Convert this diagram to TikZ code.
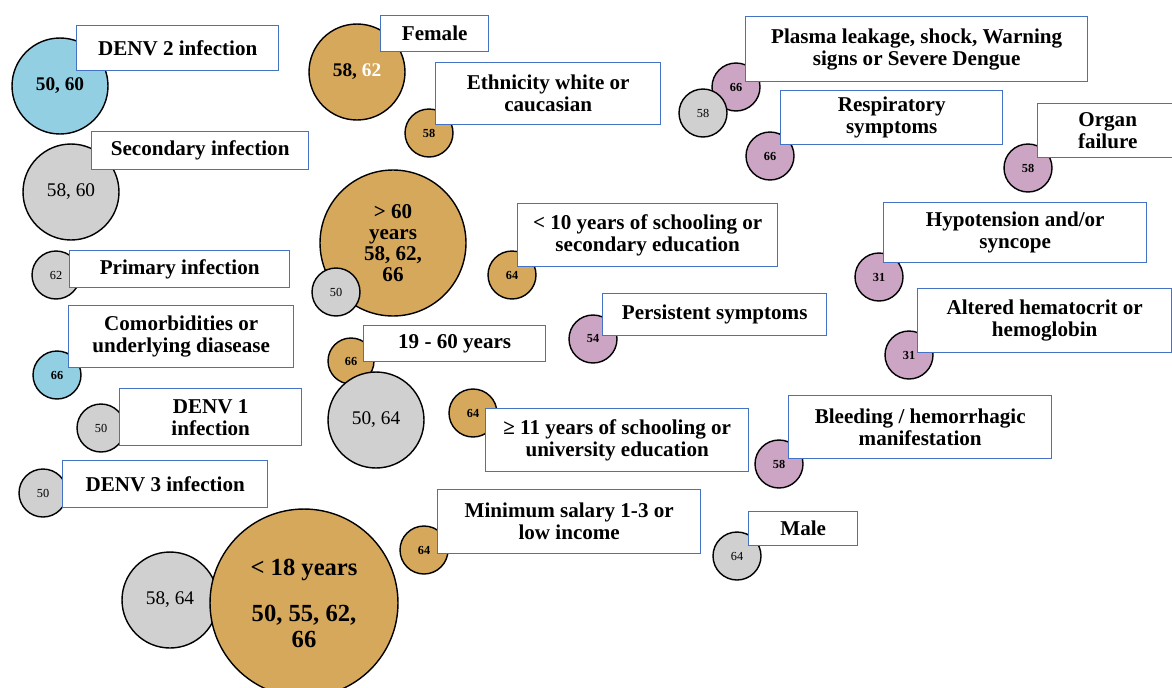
\documentclass[tikz,border=0pt]{standalone}
\usepackage{fontspec}
\setmainfont{Liberation Serif}
\definecolor{bubblue}{RGB}{146,207,227}
\definecolor{bubgold}{RGB}{214,168,92}
\definecolor{bubgray}{RGB}{208,208,208}
\definecolor{bubpink}{RGB}{205,165,196}
\definecolor{boxline}{RGB}{68,114,196}
\begin{document}
\begin{tikzpicture}[x=0.02cm,y=-0.02cm,
    bub/.style={circle, draw=black, line width=0.8pt, inner sep=0pt, align=center},
    small/.style={bub, minimum size=0.96cm, font=\bfseries\fontsize{7}{8}\selectfont},
    smallreg/.style={bub, minimum size=0.96cm, font=\fontsize{7}{8}\selectfont},
    mid/.style={bub, minimum size=1.92cm, font=\bfseries\fontsize{11}{12}\selectfont},
    midreg/.style={bub, minimum size=1.92cm, font=\fontsize{11}{12}\selectfont},
    box/.style={draw=boxline, fill=white, line width=0.8pt, anchor=north west, align=center,
        inner sep=0pt, font=\bfseries\fontsize{12}{12.5}\selectfont}]
    \useasboundingbox (0,0) rectangle (1172,687);
    % left column
    \node[mid, fill=bubblue] (c-denv2) at (60,86) {50, 60};
    \node[midreg, fill=bubgray] (c-second) at (71,192) {58, 60};
    \node[smallreg, fill=bubgray] (c-prim) at (56,275) {62};
    \node[small, fill=bubblue] (c-comor) at (57,375) {66};
    \node[smallreg, fill=bubgray] (c-denv1) at (101,428) {50};
    \node[smallreg, fill=bubgray] (c-denv3) at (43,493) {50};
    \node[midreg, fill=bubgray] (c-young) at (170,600) {58, 64};
    \node[bub, fill=bubgold, minimum size=3.76cm, font=\bfseries\fontsize{14}{14.5}\selectfont] (c-under18) at (304,603) {< 18 years\\[12pt]50, 55, 62,\\66};
    % middle column
    \node[mid, fill=bubgold] (c-female) at (357,72) {58, {\color{white}62}};
    \node[small, fill=bubgold] (c-white) at (429,133) {58};
    \node[bub, fill=bubgold, minimum size=2.92cm, font=\bfseries\fontsize{12}{12}\selectfont] (c-over60) at (393,243) {> 60\\years\\58, 62,\\66};
    \node[smallreg, fill=bubgray] (c-old) at (336,292) {50};
    \node[small, fill=bubgold] (c-school10) at (512,275) {64};
    \node[bub, fill=bubgold, minimum size=0.92cm, font=\bfseries\fontsize{7}{8}\selectfont] (c-adult) at (351,361) {66};
    \node[midreg, fill=bubgray] (c-adultg) at (376,420) {50, 64};
    \node[small, fill=bubgold] (c-school11) at (473,413) {64};
    \node[small, fill=bubgold] (c-salary) at (424,550) {64};
    \node[smallreg, fill=bubgray] (c-male) at (737,556) {64};
    \node[small, fill=bubpink] (c-persist) at (593,339) {54};
    % right column
    \node[small, fill=bubpink] (c-plasma) at (736,87) {66};
    \node[smallreg, fill=bubgray] (c-plasmag) at (703,113) {58};
    \node[small, fill=bubpink] (c-resp) at (770,156) {66};
    \node[small, fill=bubpink] (c-organ) at (1028,168) {58};
    \node[small, fill=bubpink] (c-hypo) at (879,277) {31};
    \node[small, fill=bubpink] (c-hemat) at (909,355) {31};
    \node[small, fill=bubpink] (c-bleed) at (779,464) {58};
    % labels
    \node[box, minimum width=4.04cm, minimum height=0.90cm] (b-denv2) at (76,25) {DENV 2 infection};
    \node[box, minimum width=4.34cm, minimum height=0.76cm] (b-second) at (91,131) {Secondary infection};
    \node[box, minimum width=4.40cm, minimum height=0.74cm] (b-prim) at (69,250) {Primary infection};
    \node[box, minimum width=4.50cm, minimum height=1.24cm] (b-comor) at (68,305) {Comorbidities or\\underlying diasease};
    \node[box, minimum width=3.64cm, minimum height=1.14cm] (b-denv1) at (119,388) {DENV 1\\infection};
    \node[box, minimum width=4.10cm, minimum height=0.94cm] (b-denv3) at (62,460) {DENV 3 infection};
    \node[box, minimum width=2.16cm, minimum height=0.72cm] (b-female) at (380,15) {Female};
    \node[box, minimum width=4.50cm, minimum height=1.24cm] (b-white) at (435,62) {Ethnicity white or\\caucasian};
    \node[box, minimum width=5.20cm, minimum height=1.26cm] (b-school10) at (517,203) {< 10 years of schooling or\\secondary education};
    \node[box, minimum width=3.64cm, minimum height=0.72cm] (b-adult) at (363,325) {19 - 60 years};
    \node[box, minimum width=4.48cm, minimum height=0.84cm] (b-persist) at (602,293) {Persistent symptoms};
    \node[box, minimum width=5.26cm, minimum height=1.26cm] (b-school11) at (485,408) {≥ 11 years of schooling or\\university education};
    \node[box, minimum width=5.26cm, minimum height=1.28cm] (b-salary) at (437,489) {Minimum salary 1-3 or\\low income};
    \node[box, minimum width=2.18cm, minimum height=0.68cm] (b-male) at (748,511) {Male};
    \node[box, minimum width=6.84cm, minimum height=1.30cm] (b-plasma) at (745,16) {Plasma leakage, shock, Warning\\signs or Severe Dengue};
    \node[box, minimum width=4.44cm, minimum height=1.08cm] (b-resp) at (780,90) {Respiratory\\symptoms};
    \node[box, minimum width=2.80cm, minimum height=1.08cm] (b-organ) at (1037,103) {Organ\\failure};
    \node[box, minimum width=5.26cm, minimum height=1.20cm] (b-hypo) at (883,202) {Hypotension and/or\\syncope};
    \node[box, minimum width=5.08cm, minimum height=1.28cm] (b-hemat) at (917,288) {Altered hematocrit or\\hemoglobin};
    \node[box, minimum width=5.26cm, minimum height=1.26cm] (b-bleed) at (788,395) {Bleeding / hemorrhagic\\manifestation};
\end{tikzpicture}
\end{document}
